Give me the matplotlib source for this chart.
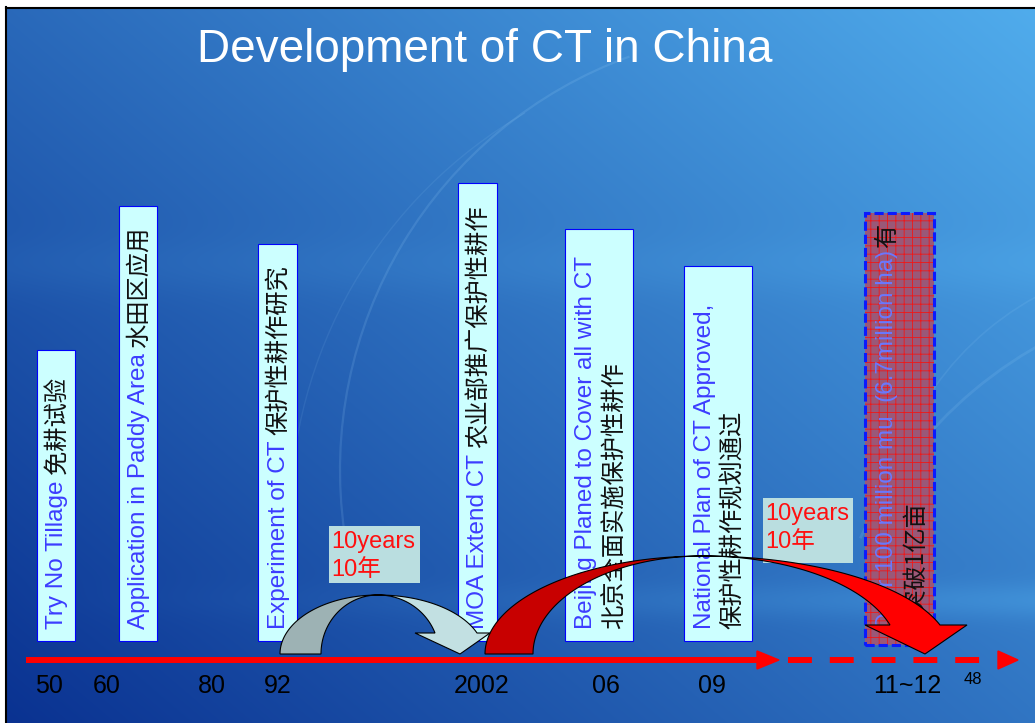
import numpy as np
import matplotlib
matplotlib.use('Agg')
import matplotlib.pyplot as plt
from matplotlib.patches import Polygon, Arc

plt.rcParams['hatch.linewidth'] = 0.6

EN = 'Liberation Sans'
CN = 'Noto Sans CJK SC'

# ---- slide content ----
title = 'Development of CT in China'
year_labels = ['50', '60', '80', '92', '2002', '06', '09', '11~12']
line1_en = ['Try No Tillage', 'Application in Paddy Area', 'Experiment of CT',
            'MOA Extend CT', 'Beijing Planed to Cover all with CT',
            'National Plan of CT Approved,']
line1_cn = ['免耕试验', '水田区应用', '保护性耕作研究', '农业部推广保护性耕作', '', '']
line2_cn = ['', '', '', '', '北京全面实施保护性耕作', '保护性耕作规划通过']
box_heights = [291, 435, 397, 458, 412, 375]   # px above the box base
goal_en = 'Over 100 million mu  (6.7million ha)'
goal_cn1 = '有'
goal_cn2 = '望突破1亿亩'
goal_height = 432
span_labels = ['10years\n10年', '10years\n10年']
page_no = '48'

# ---- layout (pixels) ----
W, H = 1035, 723
year_x = [49, 107, 212, 278, 482, 606, 712, 907]
box_left = [37, 119, 258, 458, 565, 684]
box_right = [75, 157, 297, 497, 633, 752]
box_base = 641
goal_left, goal_right, goal_base = 865, 934, 645
span_boxes = [(329, 526, 91, 57), (763, 498, 90, 65)]   # x, top, w, h
axis_y = 660
FS = 17.5

fig = plt.figure(figsize=(W / 100, H / 100), dpi=100)
fig.patch.set_facecolor('white')
ax = fig.add_axes([0, 0, 1, 1])

# background gradient of the slide
u = np.linspace(0, 1, 500)
v = np.linspace(0, 1, 360)
U, V = np.meshgrid(u, v)
t = 0.55 * U + 0.45 * (1 - V)
t += 0.14 * np.exp(-((V - 0.83) / 0.025) ** 2) * U
t += 0.06 * np.exp(-((V - 0.36) / 0.04) ** 2)
t = np.clip(t, 0, 1)
dark = np.array([10, 50, 145]) / 255
light = np.array([80, 172, 236]) / 255
rgb = dark + t[..., None] * (light - dark)
ax.imshow(rgb, extent=(7, W, H, 8), aspect='auto', interpolation='bilinear', zorder=0)

# faint light streaks
for (cx, cy, r, a1, a2, lw, al) in [(780, 470, 440, 172, 250, 1.6, 0.14),
                                    (760, 520, 470, 180, 240, 1.0, 0.09),
                                    (1250, 720, 430, 205, 255, 2.0, 0.12),
                                    (1180, 560, 300, 200, 260, 1.2, 0.10)]:
    ax.add_patch(Arc((cx, cy), 2 * r, 2 * r, theta1=a1, theta2=a2,
                     color='#a8dcff', lw=lw, alpha=al, zorder=1))

# slide border
ax.plot([6, 6], [7, H], color='black', lw=1.5, zorder=1)
ax.plot([6, W], [7.5, 7.5], color='black', lw=1.5, zorder=1)

# title
ax.text(485, 62, title, ha='center', va='baseline', fontsize=33,
        color='white', family=EN, zorder=5)

# event boxes
centers = [(l + r) / 2 for l, r in zip(box_left, box_right)]
widths = [r - l for l, r in zip(box_left, box_right)]
ax.bar(centers, [-h for h in box_heights], width=widths, bottom=box_base,
       color='#ccffff', edgecolor='#0000ff', linewidth=0.8, zorder=2)

renderer = fig.canvas.get_renderer()


def vtext(x, y, s, color, family, ha='left', z=3, alpha=1):
    return ax.text(x, y, s, rotation=90, rotation_mode='anchor', ha=ha,
                   va='center', color=color, fontsize=FS, family=family,
                   zorder=z, alpha=alpha)


def top_of(txt):
    bb = txt.get_window_extent(renderer=renderer)
    return ax.transData.inverted().transform((bb.x0, bb.y1))[1]


start_y = 629
for i, c in enumerate(centers):
    two = line2_cn[i] != ''
    x1 = c - 13 if two else c + 1
    t1 = vtext(x1, start_y, line1_en[i], '#3c3cff', EN)
    if line1_cn[i]:
        vtext(x1, top_of(t1) - 8, line1_cn[i], '#111111', CN)
    if two:
        vtext(c + 15, start_y, line2_cn[i], '#111111', CN)

# goal box (dashed, hatched)
gc = (goal_left + goal_right) / 2
gw = goal_right - goal_left
ax.bar(gc, -goal_height, width=gw, bottom=goal_base, color='#9a5878',
       linewidth=0, zorder=2)
ax.bar(gc, -goal_height, width=gw, bottom=goal_base, color='none',
       edgecolor='#f01818', hatch='++', linewidth=0, zorder=2.5)
tg = vtext(gc - 12, 631, goal_en, '#6a78ff', EN, z=3.2)
vtext(gc - 12, top_of(tg) - 6, goal_cn1, '#111111', CN, z=3.2)
vtext(gc + 16, 636, goal_cn2, '#111111', CN, z=3.2)
ax.bar(gc, -goal_height, width=gw, bottom=goal_base, color='none',
       edgecolor='#0a1aff', linewidth=2.2, linestyle=(0, (3, 1.3)), zorder=3.6)

# "10 years" labels
for (bx, by, bw, bh), lab in zip(span_boxes, span_labels):
    ax.bar(bx + bw / 2, bh, width=bw, bottom=by, color='#badee0',
           linewidth=0, zorder=5)
    for k, ln in enumerate(lab.split('\n')):
        ax.text(bx + 2, by + 16 + 28.5 * k, ln, ha='left', va='center',
                fontsize=17, color='#ff1010', family=[EN, CN], zorder=5.5)


# curved arrows
def curved_arrow(cx, base, apex, l_out, l_in, neck, r_out, r_in,
                 barb_l, barb_r, tip, c_back, c_front):
    b = base - apex
    s = np.linspace(0, np.pi / 2, 80)
    a_lo, a_li = cx - l_out, cx - l_in
    back = np.r_[np.c_[cx - a_lo * np.cos(s), base - b * np.sin(s)],
                 np.c_[cx - a_li * np.cos(s[::-1]), base - b * np.sin(s[::-1])]]
    te = np.arcsin((base - neck) / b)
    cs = np.cos(te)
    A_o, A_i = (r_out - cx) / cs, (r_in - cx) / cs
    s2 = np.linspace(np.pi / 2, te, 80)
    outer = np.c_[cx + A_o * np.cos(s2), base - b * np.sin(s2)]
    inner = np.c_[cx + A_i * np.cos(s2[::-1]), base - b * np.sin(s2[::-1])]
    front = np.r_[outer, [[barb_r, neck], [tip, base], [barb_l, neck]], inner]
    ax.add_patch(Polygon(back, closed=True, fc=c_back, ec='black', lw=0.8, zorder=6))
    ax.add_patch(Polygon(front, closed=True, fc=c_front, ec='black', lw=0.8, zorder=6.1))


curved_arrow(378, 654, 595, 280, 321, 633, 477, 435, 415, 490, 460,
             '#9db2b4', '#c2e0e2')
curved_arrow(703, 654, 556, 485, 533, 625, 940, 890, 865, 967, 925,
             '#c80000', '#ff0000')

# time axis
ax.plot([26, 762], [axis_y, axis_y], color='red', lw=4.3,
        solid_capstyle='butt', zorder=5)
ax.add_patch(Polygon([[757, axis_y - 9], [779, axis_y], [757, axis_y + 9]],
                     closed=True, color='red', zorder=5))
ax.plot([788, 990], [axis_y, axis_y], color='red', lw=4.3,
        linestyle=(0, (4, 3)), dash_capstyle='butt', zorder=5)
ax.add_patch(Polygon([[998, axis_y - 9], [1018, axis_y], [998, axis_y + 9]],
                     closed=True, color='red', zorder=5))

for x, lab in zip(year_x, year_labels):
    ax.text(x, 686, lab, ha='center', va='center', fontsize=18,
            color='black', family=EN, zorder=5)
ax.text(973, 679, page_no, ha='center', va='center', fontsize=12,
        color='black', family=EN, zorder=5)

ax.set_xlim(0, W)
ax.set_ylim(H, 0)
ax.axis('off')
fig.savefig('out.png', dpi=100, facecolor='white')
